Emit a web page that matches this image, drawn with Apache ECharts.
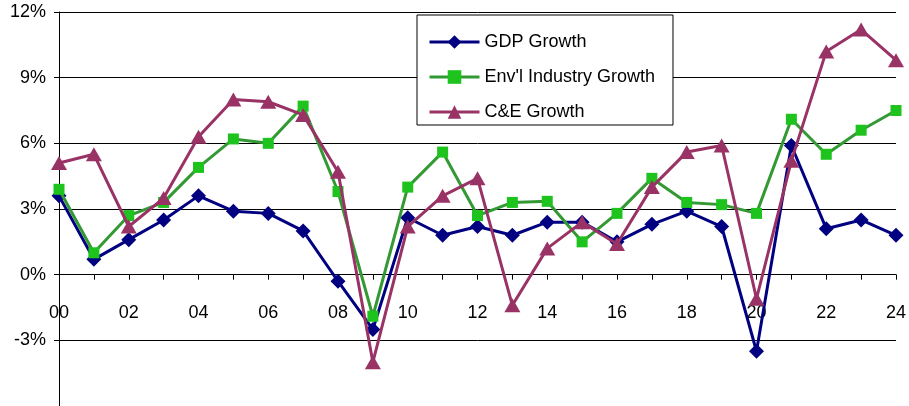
<!DOCTYPE html>
<html>
<head>
<meta charset="utf-8">
<script src="https://cdn.jsdelivr.net/npm/echarts@6/dist/echarts.min.js"></script>
<style>
  html, body { margin: 0; padding: 0; background: #fff; }
  #chart { width: 909px; height: 406px; }
</style>
</head>
<body>
<div id="chart"></div>
<script>
// Year labels (2000–2024) shown as two digits
const years = ['00','01','02','03','04','05','06','07','08','09','10','11','12',
               '13','14','15','16','17','18','19','20','21','22','23','24'];

// Annual growth rates, in percent
const gdpGrowth = [3.6, 0.7, 1.6, 2.5, 3.6, 2.9, 2.8, 2.0, -0.3, -2.5, 2.6, 1.8, 2.2,
                   1.8, 2.4, 2.4, 1.5, 2.3, 2.9, 2.2, -3.5, 5.9, 2.1, 2.5, 1.8];
const envIndustryGrowth = [3.9, 1.0, 2.7, 3.3, 4.9, 6.2, 6.0, 7.7, 3.8, -1.9, 4.0, 5.6, 2.7,
                           3.3, 3.35, 1.5, 2.8, 4.4, 3.3, 3.2, 2.8, 7.1, 5.5, 6.6, 7.5];
const ceGrowth = [5.1, 5.5, 2.2, 3.5, 6.3, 8.0, 7.9, 7.3, 4.7, -4.0, 2.2, 3.6, 4.4,
                  -1.4, 1.2, 2.4, 1.4, 4.0, 5.6, 5.9, -1.1, 5.2, 10.2, 11.2, 9.8];

const seriesNames = ['GDP Growth', "Env'l Industry Growth", 'C&E Growth'];

// value-axis range
const Y_MIN = -6, Y_MAX = 12, Y_STEP = 3;

const FONT = '"Liberation Sans", Arial, sans-serif';

const GRID = { left: 59, right: 13, top: 12, bottom: 0 };
const plotHeight = 406 - GRID.top - GRID.bottom;
// the category axis sits on the 0% line: shift it up from the bottom edge
const zeroOffset = -plotHeight * (0 - Y_MIN) / (Y_MAX - Y_MIN);

const chart = echarts.init(document.getElementById('chart'), null, { renderer: 'canvas' });

chart.setOption({
  animation: false,
  backgroundColor: '#ffffff',
  grid: Object.assign({ containLabel: false, outerBoundsMode: 'none' }, GRID),
  legend: {
    orient: 'vertical',
    left: 417,
    top: 15,
    padding: [15, 18, 1, 11],
    itemGap: 11,
    itemWidth: 50,
    itemHeight: 17,
    backgroundColor: '#ffffff',
    borderColor: '#000000',
    borderWidth: 1,
    borderRadius: 0,
    lineStyle: { width: 3 },
    textStyle: { fontFamily: FONT, fontSize: 18, color: '#000', lineHeight: 24 },
    data: seriesNames
  },
  xAxis: {
    type: 'category',
    data: years,
    boundaryGap: false,
    position: 'bottom',
    offset: zeroOffset,
    axisLine: { onZero: false, lineStyle: { color: '#000', width: 1 } },
    axisTick: { show: true, interval: 0, length: 5, lineStyle: { color: '#000' } },
    axisLabel: { interval: 1, margin: 29, fontFamily: FONT, fontSize: 18, color: '#000' },
    splitLine: { show: false }
  },
  yAxis: {
    type: 'value',
    min: Y_MIN,
    max: Y_MAX,
    interval: Y_STEP,
    axisLine: { show: true, onZero: false, lineStyle: { color: '#000', width: 1 } },
    axisTick: { show: true, length: 5, lineStyle: { color: '#000' } },
    axisLabel: {
      margin: 13,
      fontFamily: FONT,
      fontSize: 18,
      color: '#000',
      formatter: v => (v <= Y_MIN ? '' : v + '%')
    },
    splitLine: { show: true, lineStyle: { color: '#000', width: 1 } }
  },
  series: [
    {
      name: seriesNames[0],
      type: 'line',
      data: gdpGrowth,
      symbol: 'diamond',
      symbolSize: [15, 15],
      itemStyle: { color: '#000080' },
      lineStyle: { color: '#000080', width: 3 },
      z: 2
    },
    {
      name: seriesNames[1],
      type: 'line',
      data: envIndustryGrowth,
      symbol: 'rect',
      symbolSize: [11, 11],
      itemStyle: { color: '#1ec31e' },
      lineStyle: { color: '#339933', width: 3 },
      z: 3
    },
    {
      name: seriesNames[2],
      type: 'line',
      data: ceGrowth,
      symbol: 'triangle',
      symbolSize: [16, 14],
      itemStyle: { color: '#993366' },
      lineStyle: { color: '#993366', width: 3 },
      z: 4
    }
  ]
});
</script>
</body>
</html>
